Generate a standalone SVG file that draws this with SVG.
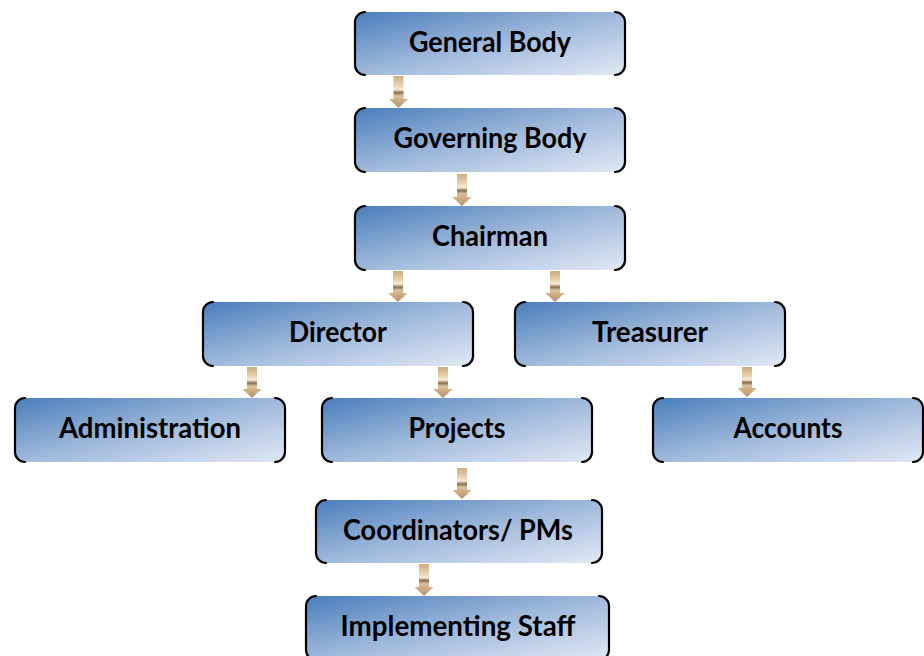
<svg xmlns="http://www.w3.org/2000/svg" width="924" height="656" viewBox="0 0 924 656">
<defs>
<linearGradient id="boxg" x1="0" y1="0" x2="1" y2="1">
<stop offset="0" stop-color="#4a7ebb"/>
<stop offset="0.5" stop-color="#9fb8db"/>
<stop offset="1" stop-color="#e0e9f4"/>
</linearGradient>
<linearGradient id="arrg" x1="0" y1="0" x2="0" y2="1">
<stop offset="0" stop-color="#cdab80"/>
<stop offset="0.28" stop-color="#e6d0ae"/>
<stop offset="0.42" stop-color="#f7ecda"/>
<stop offset="0.52" stop-color="#8e6e4b"/>
<stop offset="0.62" stop-color="#dcc19b"/>
<stop offset="0.72" stop-color="#d2b087"/>
<stop offset="1" stop-color="#b8936a"/>
</linearGradient>
<linearGradient id="arrh" x1="0" y1="0" x2="1" y2="0">
<stop offset="0" stop-color="#000" stop-opacity="0.12"/>
<stop offset="0.5" stop-color="#fff" stop-opacity="0.15"/>
<stop offset="1" stop-color="#000" stop-opacity="0.12"/>
</linearGradient>
</defs>
<style>
.box{fill:url(#boxg);}
.edge{fill:none;stroke:#000;stroke-width:2.2;stroke-linecap:round;}
.lbl{font-family:Lato,"Open Sans","Liberation Sans",sans-serif;font-weight:bold;font-size:28px;fill:#000;text-anchor:middle;}
.arr{fill:url(#arrg);}
.arrs{fill:url(#arrh);}
</style>
<rect width="924" height="656" fill="#fff"/>

<g id="connectors">
<path class="arr" d="M393.5 76 H403.5 V99 H408 L398.5 108 L389 99 H393.5 Z"/>
<path class="arr" d="M457 174 H467 V197 H471.5 L462 206 L452.5 197 H457 Z"/>
<path class="arr" d="M393 271 H403 V293 H407.5 L398 302 L388.5 293 H393 Z"/>
<path class="arr" d="M550 271 H560 V293 H564.5 L555 302 L545.5 293 H550 Z"/>
<path class="arr" d="M247 367 H257 V389 H261.5 L252 398 L242.5 389 H247 Z"/>
<path class="arr" d="M438 367 H448 V389 H452.5 L443 398 L433.5 389 H438 Z"/>
<path class="arr" d="M742 367 H752 V388 H756.5 L747 397 L737.5 388 H742 Z"/>
<path class="arr" d="M457 468 H467 V490 H471.5 L462 499 L452.5 490 H457 Z"/>
<path class="arr" d="M419 564 H429 V587 H433.5 L424 596 L414.5 587 H419 Z"/>
</g>

<g id="general-body">
<rect class="box" x="355" y="12" width="270" height="63" rx="10"/>
<path class="edge" d="M365 12 A10 10 0 0 0 355 22 V65 A10 10 0 0 0 365 75 M615 12 A10 10 0 0 1 625 22 V65 A10 10 0 0 1 615 75"/>
<text class="lbl" x="490" y="52" textLength="162" lengthAdjust="spacingAndGlyphs">General Body</text>
</g>

<g id="governing-body">
<rect class="box" x="355" y="108" width="270" height="64" rx="10"/>
<path class="edge" d="M365 108 A10 10 0 0 0 355 118 V162 A10 10 0 0 0 365 172 M615 108 A10 10 0 0 1 625 118 V162 A10 10 0 0 1 615 172"/>
<text class="lbl" x="490" y="148" textLength="193" lengthAdjust="spacingAndGlyphs">Governing Body</text>
</g>

<g id="chairman">
<rect class="box" x="355" y="206" width="270" height="64" rx="10"/>
<path class="edge" d="M365 206 A10 10 0 0 0 355 216 V260 A10 10 0 0 0 365 270 M615 206 A10 10 0 0 1 625 216 V260 A10 10 0 0 1 615 270"/>
<text class="lbl" x="490" y="246" textLength="116" lengthAdjust="spacingAndGlyphs">Chairman</text>
</g>

<g id="director">
<rect class="box" x="203" y="302" width="270" height="64" rx="10"/>
<path class="edge" d="M213 302 A10 10 0 0 0 203 312 V356 A10 10 0 0 0 213 366 M463 302 A10 10 0 0 1 473 312 V356 A10 10 0 0 1 463 366"/>
<text class="lbl" x="338" y="342" textLength="98" lengthAdjust="spacingAndGlyphs">Director</text>
</g>

<g id="treasurer">
<rect class="box" x="515" y="302" width="270" height="64" rx="10"/>
<path class="edge" d="M525 302 A10 10 0 0 0 515 312 V356 A10 10 0 0 0 525 366 M775 302 A10 10 0 0 1 785 312 V356 A10 10 0 0 1 775 366"/>
<text class="lbl" x="650" y="342" textLength="116" lengthAdjust="spacingAndGlyphs">Treasurer</text>
</g>

<g id="administration">
<rect class="box" x="15" y="398" width="270" height="64" rx="10"/>
<path class="edge" d="M25 398 A10 10 0 0 0 15 408 V452 A10 10 0 0 0 25 462 M275 398 A10 10 0 0 1 285 408 V452 A10 10 0 0 1 275 462"/>
<text class="lbl" x="150" y="438" textLength="182" lengthAdjust="spacingAndGlyphs">Administration</text>
</g>

<g id="projects">
<rect class="box" x="322" y="398" width="270" height="64" rx="10"/>
<path class="edge" d="M332 398 A10 10 0 0 0 322 408 V452 A10 10 0 0 0 332 462 M582 398 A10 10 0 0 1 592 408 V452 A10 10 0 0 1 582 462"/>
<text class="lbl" x="457" y="438" textLength="97" lengthAdjust="spacingAndGlyphs">Projects</text>
</g>

<g id="accounts">
<rect class="box" x="653" y="398" width="270" height="64" rx="10"/>
<path class="edge" d="M663 398 A10 10 0 0 0 653 408 V452 A10 10 0 0 0 663 462 M913 398 A10 10 0 0 1 923 408 V452 A10 10 0 0 1 913 462"/>
<text class="lbl" x="788" y="438" textLength="109" lengthAdjust="spacingAndGlyphs">Accounts</text>
</g>

<g id="coordinators">
<rect class="box" x="316" y="500" width="286" height="63" rx="10"/>
<path class="edge" d="M326 500 A10 10 0 0 0 316 510 V553 A10 10 0 0 0 326 563 M592 500 A10 10 0 0 1 602 510 V553 A10 10 0 0 1 592 563"/>
<text class="lbl" x="458" y="540" textLength="230" lengthAdjust="spacingAndGlyphs">Coordinators/ PMs</text>
</g>

<g id="implementing-staff">
<rect class="box" x="306" y="596" width="303" height="64" rx="10"/>
<path class="edge" d="M316 596 A10 10 0 0 0 306 606 V650 A10 10 0 0 0 316 660 M599 596 A10 10 0 0 1 609 606 V650 A10 10 0 0 1 599 660"/>
<text class="lbl" x="458" y="636" textLength="235" lengthAdjust="spacingAndGlyphs">Implementing Staff</text>
</g>
</svg>
